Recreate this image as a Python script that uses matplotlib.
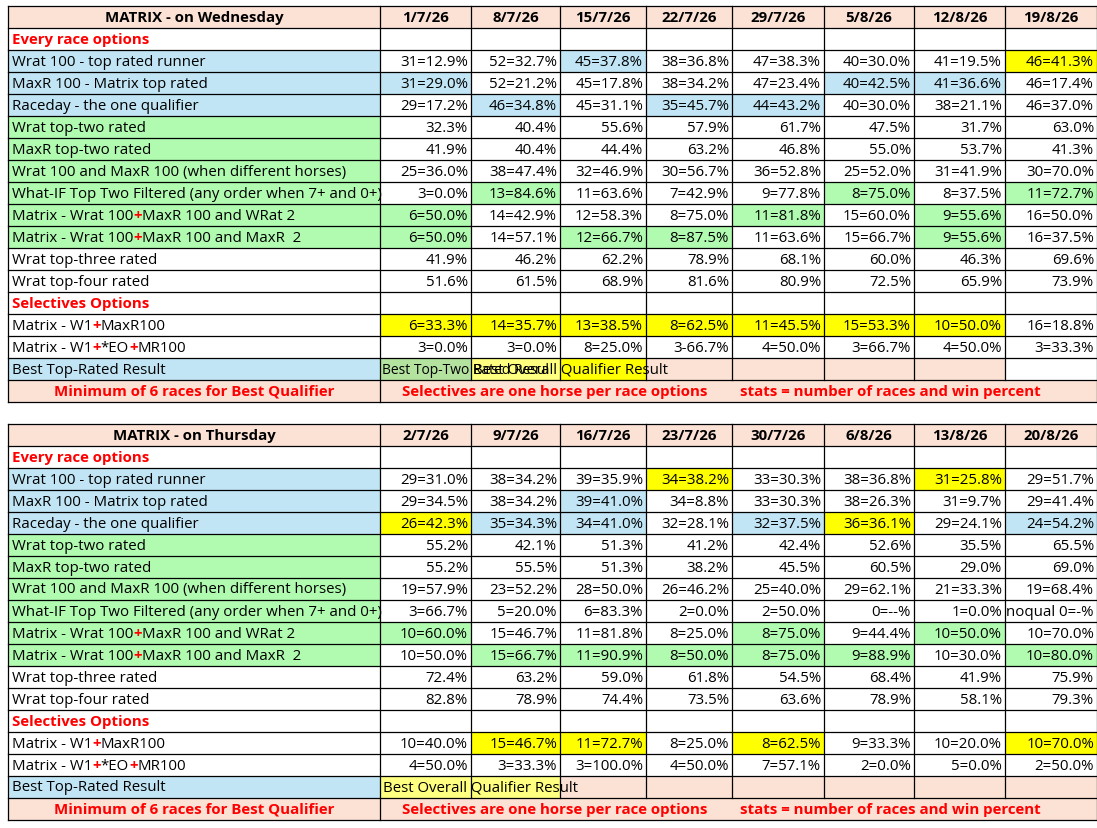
import matplotlib
matplotlib.use("Agg")
import matplotlib.pyplot as plt
from matplotlib.patches import Rectangle

plt.rcParams["font.family"] = ["Open Sans", "DejaVu Sans"]

# ── Data ─────────────────────────────────────────────────────────────────────
labels = [
    None, "Every race options",
    "Wrat 100 - top rated runner", "MaxR 100 - Matrix top rated",
    "Raceday - the one qualifier", "Wrat top-two rated", "MaxR top-two rated",
    "Wrat 100 and MaxR 100 (when different horses)",
    "What-IF Top Two Filtered (any order when 7+ and 0+)",
    "Matrix - Wrat 100|+|MaxR 100 and WRat 2",
    "Matrix - Wrat 100|+|MaxR 100 and MaxR  2",
    "Wrat top-three rated", "Wrat top-four rated", "Selectives Options",
    "Matrix - W1|+|MaxR100", "Matrix - W1|+|*EO|+|MR100",
    "Best Top-Rated Result", None,
]

wed_title = "MATRIX - on Wednesday"
wed_dates = ["1/7/26", "8/7/26", "15/7/26", "22/7/26", "29/7/26", "5/8/26", "12/8/26", "19/8/26"]
wed_rows = {
    2: ["31=12.9%", "52=32.7%", "45=37.8%", "38=36.8%", "47=38.3%", "40=30.0%", "41=19.5%", "46=41.3%"],
    3: ["31=29.0%", "52=21.2%", "45=17.8%", "38=34.2%", "47=23.4%", "40=42.5%", "41=36.6%", "46=17.4%"],
    4: ["29=17.2%", "46=34.8%", "45=31.1%", "35=45.7%", "44=43.2%", "40=30.0%", "38=21.1%", "46=37.0%"],
    5: ["32.3%", "40.4%", "55.6%", "57.9%", "61.7%", "47.5%", "31.7%", "63.0%"],
    6: ["41.9%", "40.4%", "44.4%", "63.2%", "46.8%", "55.0%", "53.7%", "41.3%"],
    7: ["25=36.0%", "38=47.4%", "32=46.9%", "30=56.7%", "36=52.8%", "25=52.0%", "31=41.9%", "30=70.0%"],
    8: ["3=0.0%", "13=84.6%", "11=63.6%", "7=42.9%", "9=77.8%", "8=75.0%", "8=37.5%", "11=72.7%"],
    9: ["6=50.0%", "14=42.9%", "12=58.3%", "8=75.0%", "11=81.8%", "15=60.0%", "9=55.6%", "16=50.0%"],
    10: ["6=50.0%", "14=57.1%", "12=66.7%", "8=87.5%", "11=63.6%", "15=66.7%", "9=55.6%", "16=37.5%"],
    11: ["41.9%", "46.2%", "62.2%", "78.9%", "68.1%", "60.0%", "46.3%", "69.6%"],
    12: ["51.6%", "61.5%", "68.9%", "81.6%", "80.9%", "72.5%", "65.9%", "73.9%"],
    14: ["6=33.3%", "14=35.7%", "13=38.5%", "8=62.5%", "11=45.5%", "15=53.3%", "10=50.0%", "16=18.8%"],
    15: ["3=0.0%", "3=0.0%", "8=25.0%", "3-66.7%", "4=50.0%", "3=66.7%", "4=50.0%", "3=33.3%"],
}
wed_blue = [(2, 2), (3, 0), (3, 5), (3, 6), (4, 1), (4, 3), (4, 4)]
wed_yellow = [(2, 7)] + [(14, c) for c in range(7)]
wed_green = [(8, 1), (8, 5), (8, 7), (9, 0), (9, 4), (9, 6), (10, 0), (10, 2), (10, 3), (10, 6)]

thu_title = "MATRIX - on Thursday"
thu_dates = ["2/7/26", "9/7/26", "16/7/26", "23/7/26", "30/7/26", "6/8/26", "13/8/26", "20/8/26"]
thu_rows = {
    2: ["29=31.0%", "38=34.2%", "39=35.9%", "34=38.2%", "33=30.3%", "38=36.8%", "31=25.8%", "29=51.7%"],
    3: ["29=34.5%", "38=34.2%", "39=41.0%", "34=8.8%", "33=30.3%", "38=26.3%", "31=9.7%", "29=41.4%"],
    4: ["26=42.3%", "35=34.3%", "34=41.0%", "32=28.1%", "32=37.5%", "36=36.1%", "29=24.1%", "24=54.2%"],
    5: ["55.2%", "42.1%", "51.3%", "41.2%", "42.4%", "52.6%", "35.5%", "65.5%"],
    6: ["55.2%", "55.5%", "51.3%", "38.2%", "45.5%", "60.5%", "29.0%", "69.0%"],
    7: ["19=57.9%", "23=52.2%", "28=50.0%", "26=46.2%", "25=40.0%", "29=62.1%", "21=33.3%", "19=68.4%"],
    8: ["3=66.7%", "5=20.0%", "6=83.3%", "2=0.0%", "2=50.0%", "0=--%", "1=0.0%", "noqual 0=-%"],
    9: ["10=60.0%", "15=46.7%", "11=81.8%", "8=25.0%", "8=75.0%", "9=44.4%", "10=50.0%", "10=70.0%"],
    10: ["10=50.0%", "15=66.7%", "11=90.9%", "8=50.0%", "8=75.0%", "9=88.9%", "10=30.0%", "10=80.0%"],
    11: ["72.4%", "63.2%", "59.0%", "61.8%", "54.5%", "68.4%", "41.9%", "75.9%"],
    12: ["82.8%", "78.9%", "74.4%", "73.5%", "63.6%", "78.9%", "58.1%", "79.3%"],
    14: ["10=40.0%", "15=46.7%", "11=72.7%", "8=25.0%", "8=62.5%", "9=33.3%", "10=20.0%", "10=70.0%"],
    15: ["4=50.0%", "3=33.3%", "3=100.0%", "4=50.0%", "7=57.1%", "2=0.0%", "5=0.0%", "2=50.0%"],
}
thu_blue = [(3, 2), (4, 1), (4, 2), (4, 4), (4, 7)]
thu_yellow = [(2, 3), (2, 6), (4, 0), (4, 5), (14, 1), (14, 2), (14, 4), (14, 7)]
thu_green = [(9, 0), (9, 4), (9, 6), (10, 1), (10, 2), (10, 3), (10, 4), (10, 5), (10, 7)]

footer_left = "Minimum of 6 races for Best Qualifier"
footer_mid = "Selectives are one horse per race options"
footer_right = "stats = number of races and win percent"

# ── Style ────────────────────────────────────────────────────────────────────
PEACH = "#FBE2D5"
BLUE = "#C1E5F5"
GREEN = "#B0FBB0"
YELLOW = "#FFFF00"
LYELLOW = "#FFFF80"
LGREEN = "#B4E3A0"
RED = "#FF0000"
FS = 10.8

XS = [8, 380, 471, 560, 646, 732, 824, 914, 1005, 1097]
RH = 22.0

fig = plt.figure(figsize=(10.97, 8.29), dpi=100)
ax = fig.add_axes([0, 0, 1, 1])
ax.set_xlim(0, 1097)
ax.set_ylim(829, 0)
ax.axis("off")
renderer = fig.canvas.get_renderer()


def cell(x0, x1, y0, color):
    ax.add_patch(Rectangle((x0, y0), x1 - x0, RH, facecolor=color,
                           edgecolor="none", zorder=1))


def multi_text(x, y, s):
    # label with red "+" pieces, separated by "|"
    for p in s.split("|"):
        col = RED if p == "+" else "black"
        t = ax.text(x, y, p, color=col, fontsize=FS, va="center", ha="left",
                    fontweight="bold" if p == "+" else "normal", zorder=3)
        x += t.get_window_extent(renderer).width


def draw_table(y_top, title, dates, rows, blue, yellow, green, best_row):
    y = lambda r: y_top + r * RH
    cell(XS[0], XS[-1], y(0), PEACH)
    for r in (2, 3, 4, 16):
        cell(XS[0], XS[1], y(r), BLUE)
    for r in range(5, 11):
        cell(XS[0], XS[1], y(r), GREEN)
    cell(XS[0], XS[-1], y(17), PEACH)
    for lst, colr in ((blue, BLUE), (yellow, YELLOW), (green, GREEN)):
        for r, c in lst:
            cell(XS[c + 1], XS[c + 2], y(r), colr)
    for c, colr in best_row:
        cell(XS[c + 1], XS[c + 2], y(16), colr)

    for r in range(19):
        ax.plot([XS[0], XS[-1]], [y(r), y(r)], color="black", lw=0.9, zorder=2)
    for i, x in enumerate(XS):
        ax.plot([x, x], [y(0), y(17) if 1 < i < len(XS) - 1 else y(18)],
                color="black", lw=0.9, zorder=2)

    ax.text((XS[0] + XS[1]) / 2, y(0.5), title, ha="center", va="center",
            fontsize=FS, fontweight="bold", zorder=3)
    for c, d in enumerate(dates):
        ax.text((XS[c + 1] + XS[c + 2]) / 2, y(0.5), d, ha="center",
                va="center", fontsize=FS, fontweight="bold", zorder=3)
    for r, lab in enumerate(labels):
        if lab is None:
            continue
        if r in (1, 13):
            ax.text(XS[0] + 4, y(r + 0.5), lab, color=RED, fontweight="bold",
                    fontsize=FS, va="center", zorder=3)
        else:
            multi_text(XS[0] + 4, y(r + 0.5), lab)
    for r, vals in rows.items():
        for c, v in enumerate(vals):
            ax.text(XS[c + 2] - 3, y(r + 0.5), v, ha="right", va="center",
                    fontsize=FS, zorder=3)
    ax.text((XS[0] + XS[1]) / 2, y(17.5), footer_left, color=RED,
            fontweight="bold", ha="center", va="center", fontsize=FS, zorder=3)
    ax.text(555, y(17.5), footer_mid, color=RED, fontweight="bold",
            ha="center", va="center", fontsize=FS, zorder=3)
    ax.text(890, y(17.5), footer_right, color=RED, fontweight="bold",
            ha="center", va="center", fontsize=FS, zorder=3)


draw_table(7, wed_title, wed_dates, wed_rows, wed_blue, wed_yellow, wed_green,
           [(0, LGREEN), (1, LYELLOW), (2, YELLOW), (3, PEACH), (4, PEACH),
            (5, PEACH), (6, PEACH)])
# text cut off at the cell edge, as in the sheet
ax.text(XS[1] + 2, 7 + 16.5 * RH, "Best Top-Two Rated Resul", fontsize=FS - 0.8,
        va="center", zorder=3)
ax.text(XS[2] + 2, 7 + 16.5 * RH, "Best Overall Qualifier Result", fontsize=FS,
        va="center", zorder=3)

draw_table(425, thu_title, thu_dates, thu_rows, thu_blue, thu_yellow, thu_green,
           [(0, LYELLOW), (1, LYELLOW)] + [(c, PEACH) for c in range(2, 8)])
ax.text(XS[1] + 3, 425 + 16.5 * RH, "Best Overall Qualifier Result",
        fontsize=FS, va="center", zorder=3)

fig.savefig("out.png", dpi=100)
